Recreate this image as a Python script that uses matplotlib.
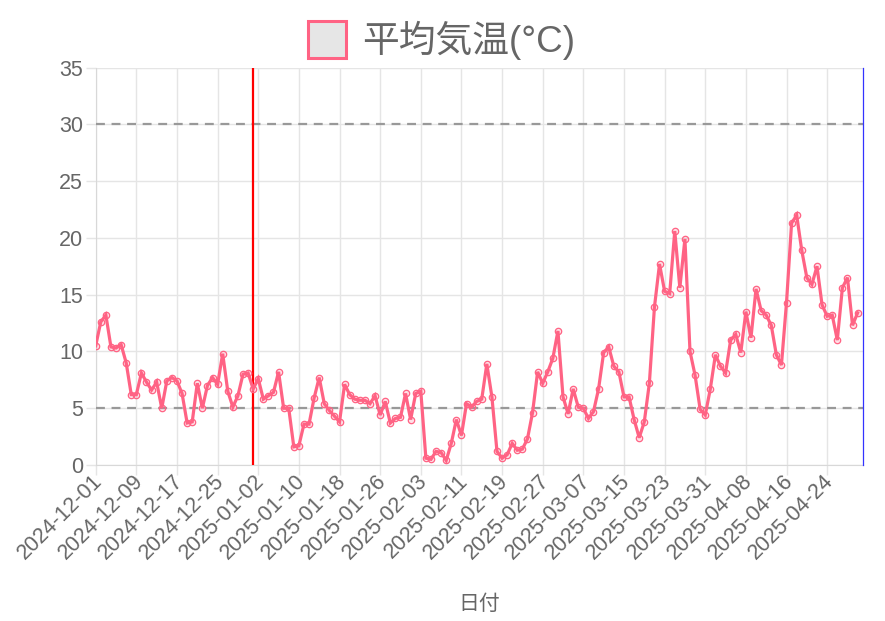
import numpy as np
import pandas as pd
import matplotlib
matplotlib.use('Agg')
import matplotlib.pyplot as plt
from matplotlib.patches import Rectangle
from matplotlib.transforms import ScaledTranslation

plt.rcParams['font.family'] = ['Liberation Sans', 'Noto Sans CJK JP', 'DejaVu Sans']

# daily dates on the category axis (the last one has no value)
dates = pd.date_range('2024-12-01', '2025-05-01', freq='D')
labels = [d.strftime('%Y-%m-%d') for d in dates]

# 平均気温
temps = [
    10.5, 12.6, 13.2, 10.4, 10.3, 10.6, 9.0, 6.2, 6.2, 8.1,
    7.3, 6.6, 7.3, 5.0, 7.4, 7.7, 7.4, 6.3, 3.7, 3.8,
    7.2, 5.0, 7.0, 7.7, 7.1, 9.8, 6.5, 5.1, 6.1, 8.0,
    8.1, 6.7, 7.6, 5.8, 6.1, 6.4, 8.2, 5.0, 5.0, 1.6,
    1.7, 3.6, 3.6, 5.9, 7.7, 5.4, 4.8, 4.3, 3.8, 7.1,
    6.2, 5.8, 5.7, 5.7, 5.4, 6.1, 4.4, 5.6, 3.7, 4.1,
    4.2, 6.3, 4.0, 6.3, 6.5, 0.6, 0.5, 1.2, 1.1, 0.4,
    1.9, 4.0, 2.6, 5.4, 5.1, 5.6, 5.8, 8.9, 6.0, 1.2,
    0.6, 0.9, 1.9, 1.3, 1.4, 2.3, 4.6, 8.2, 7.2, 8.2,
    9.4, 11.8, 6.0, 4.5, 6.7, 5.1, 5.0, 4.1, 4.7, 6.7,
    9.9, 10.4, 8.7, 8.2, 6.0, 6.0, 4.0, 2.4, 3.8, 7.2,
    13.9, 17.7, 15.3, 15.1, 20.6, 15.6, 19.9, 10.0, 7.9, 4.9,
    4.4, 6.7, 9.7, 8.7, 8.1, 11.0, 11.5, 9.9, 13.5, 11.2,
    15.5, 13.6, 13.2, 12.3, 9.7, 8.8, 14.3, 21.3, 22.0, 18.9,
    16.5, 15.9, 17.5, 14.1, 13.1, 13.2, 11.0, 15.6, 16.5, 12.3,
    13.4,
]

ref_lines = [5, 30]
red_day = '2025-01-01'
blue_day = '2025-05-01'

pink = '#ff6384'
grey_txt = '#666666'
grid_c = '#e5e5e5'

fig = plt.figure(figsize=(8.85, 6.21), dpi=100)
ax = fig.add_axes([95.7/885, 1 - 465/621, (862.7-95.7)/885, (465-67.5)/621])

x = np.arange(len(temps))
ax.plot(x, temps, color=pink, lw=2.3, marker='o', ms=4.6,
        mfc=(1, 0.39, 0.52, 0.2), mec=pink, mew=0.9, zorder=5,
        solid_joinstyle='miter')

for v in ref_lines:
    ax.axhline(v, color='#999999', lw=1.6, ls=(0, (4, 3)), zorder=3)

ax.axvline(labels.index(red_day), color='red', lw=1.6, zorder=4)
ax.axvline(labels.index(blue_day), color='#3333ff', lw=0.9, zorder=4, clip_on=False)

ax.set_xlim(0, len(dates) - 1)
ax.set_ylim(0, 35)
ax.set_yticks(range(0, 36, 5))
ticks = list(range(0, len(dates) - 1, 8))
ax.set_xticks(ticks)
ax.set_xticklabels([labels[i] for i in ticks], rotation=45, ha='right',
                   rotation_mode='anchor')
ax.tick_params(axis='both', colors=grid_c, labelcolor=grey_txt, labelsize=15.5,
               length=7, width=1)
ax.tick_params(axis='x', pad=0)
ax.tick_params(axis='y', pad=2)
# nudge the date labels a little up-left, closer to the ticks
shift = ScaledTranslation(-4/100, 4/100, fig.dpi_scale_trans)
for lab in ax.get_xticklabels():
    lab.set_transform(lab.get_transform() + shift)
ax.grid(True, color=grid_c, lw=1)
ax.set_axisbelow(True)
for s in ['top', 'right']:
    ax.spines[s].set_visible(False)
for s in ['left', 'bottom']:
    ax.spines[s].set_color('#d8d8d8')

ax.set_xlabel('日付', color=grey_txt, fontsize=15, labelpad=22)

# legend drawn by hand, like the chart.js box
fig.patches.append(Rectangle((308/885, 1 - 58/621), 38/885, 37/621,
                             transform=fig.transFigure, facecolor='#e6e6e6',
                             edgecolor=pink, lw=2.2))
fig.text(362/885, 1 - 40/621, '平均気温(°C)', color=grey_txt, fontsize=26.5,
         va='center', ha='left')

fig.savefig('out.png', dpi=100)
